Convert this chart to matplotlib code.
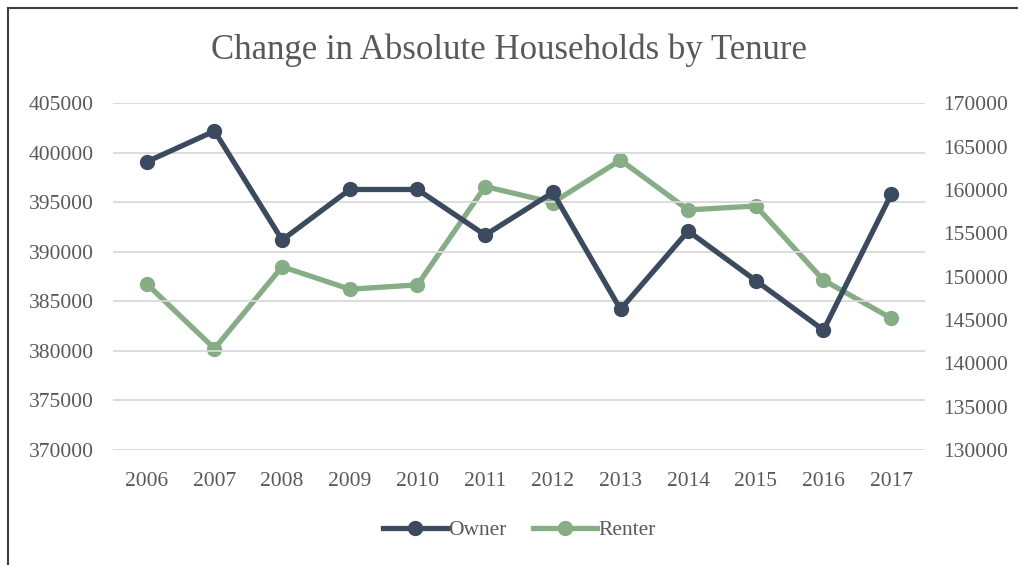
import matplotlib
matplotlib.use("Agg")
import matplotlib.pyplot as plt
from matplotlib.lines import Line2D

years = ["2006", "2007", "2008", "2009", "2010", "2011", "2012", "2013", "2014", "2015", "2016", "2017"]
owner = [399100, 402200, 391200, 396300, 396300, 391700, 396000, 384200, 392100, 387100, 382100, 395800]
renter = [149150, 141700, 151150, 148550, 149050, 160400, 158550, 163450, 157700, 158150, 149600, 145200]
left_ticks = [370000, 375000, 380000, 385000, 390000, 395000, 400000, 405000]
right_ticks = [130000, 135000, 140000, 145000, 150000, 155000, 160000, 165000, 170000]

owner_color = "#3b4a5e"
renter_color = "#86ad86"
text_color = "#595959"
font = ["Liberation Serif", "DejaVu Serif"]
plt.rcParams["font.family"] = font

fig = plt.figure(figsize=(10.18, 5.65), dpi=100)
ax = fig.add_axes([113/1018, 1-450/565, (925-113)/1018, (450-103.3)/565])
ax2 = ax.twinx()

x = list(range(len(years)))
ax.plot(x, owner, color=owner_color, lw=3.8, marker="o", ms=10, zorder=3, solid_joinstyle="round")
ax2.plot(x, renter, color=renter_color, lw=3.8, marker="o", ms=10, zorder=3, solid_joinstyle="round")

ax.set_zorder(ax2.get_zorder() + 1)
ax.patch.set_visible(False)

ax.set_xlim(-0.5, len(years) - 0.5)
ax.set_ylim(370000, 405000)
ax2.set_ylim(130000, 170000)
ax.set_yticks(left_ticks)
ax.set_yticklabels([str(v) for v in left_ticks])
ax2.set_yticks(right_ticks)
ax2.set_yticklabels([str(v) for v in right_ticks])
ax.set_xticks(x)
ax.set_xticklabels(years)

ax2.yaxis.grid(False)
ax.yaxis.grid(True, color="#d9d9d9", lw=1.3)
ax.set_axisbelow(True)
for a in (ax, ax2):
    for s in a.spines.values():
        s.set_visible(False)
    a.tick_params(length=0, labelsize=15.5, colors=text_color)
ax.tick_params(axis="x", pad=16)
ax.tick_params(axis="y", pad=14)
ax2.tick_params(axis="y", pad=13)

fig.text(0.5, 1-50/565, "Change in Absolute Households by Tenure", ha="center", va="center",
         fontsize=25, color=text_color)

handles = [Line2D([], [], color=owner_color, lw=3.8, marker="o", ms=10),
           Line2D([], [], color=renter_color, lw=3.8, marker="o", ms=10)]
fig.legend(handles, ["Owner", "Renter"], loc="center", bbox_to_anchor=(0.51, 1-530/565), ncol=2,
           frameon=False, fontsize=15.5, labelcolor=text_color, handlelength=3.0,
           handletextpad=0.05, columnspacing=1.2)

# partial border (left and top visible)
fig.add_artist(Line2D([8/1018, 8/1018], [0, 1-8/565], color="#404040", lw=1.5, transform=fig.transFigure))
fig.add_artist(Line2D([8/1018, 1], [1-8/565, 1-8/565], color="#404040", lw=1.5, transform=fig.transFigure))

fig.savefig("out.png", dpi=100)
